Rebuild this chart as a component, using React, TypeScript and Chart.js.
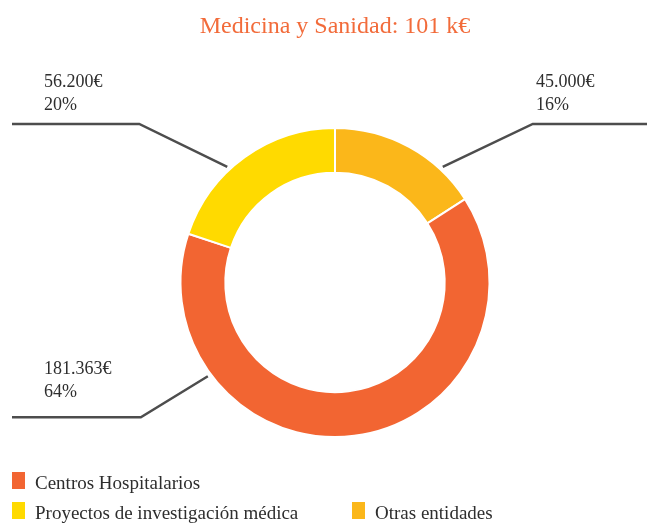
import React, { useEffect, useRef } from "react";
import { Chart, registerables } from "chart.js";

Chart.register(...registerables);

const TITLE = "Medicina y Sanidad: 101 k€";
const categories = ["Otras entidades", "Centros Hospitalarios", "Proyectos de investigación médica"];
const values = [45000, 181363, 56200];
const valueLabels = ["45.000€", "181.363€", "56.200€"];
const percentLabels = ["16%", "64%", "20%"];
const colors = ["#FBB71A", "#F26532", "#FFDA00"];
const legendOrder = [1, 2, 0];

const SERIF = "'Liberation Serif', 'DejaVu Serif', serif";

// layout of callouts (annotation geometry, per slice index)
const callouts = [
  { angle: -47, dx: 90, dy: -43, endX: 647, textX: 536, textY: [87, 110] },
  { angle: 143.6, dx: -67, dy: 41, endX: 12, textX: 44, textY: [374, 397] },
  { angle: -133, dx: -88, dy: -43, endX: 12, textX: 44, textY: [87, 110] },
];

const legendPos = [
  { x: 12, y: 472 },
  { x: 12, y: 502 },
  { x: 352, y: 502 },
];

const overlayPlugin = {
  id: "overlay",
  afterDraw(chart: any) {
    const ctx = chart.ctx as CanvasRenderingContext2D;
    const meta = chart.getDatasetMeta(0);
    ctx.save();
    // title
    ctx.fillStyle = "#F26B3A";
    ctx.font = `24px ${SERIF}`;
    ctx.textAlign = "center";
    ctx.textBaseline = "alphabetic";
    ctx.fillText(TITLE, 335, 33);

    // callouts
    meta.data.forEach((arc: any, i: number) => {
      const c = callouts[i];
      const a = (c.angle * Math.PI) / 180;
      const r = arc.outerRadius + 3.5;
      const sx = arc.x + Math.cos(a) * r;
      const sy = arc.y + Math.sin(a) * r;
      const ex = sx + c.dx;
      const ey = sy + c.dy;
      ctx.strokeStyle = "#4d4d4d";
      ctx.lineWidth = 2.5;
      ctx.beginPath();
      ctx.moveTo(sx, sy);
      ctx.lineTo(ex, ey);
      ctx.lineTo(c.endX, ey);
      ctx.stroke();
      ctx.fillStyle = "#2e2e2e";
      ctx.font = `18px ${SERIF}`;
      ctx.textAlign = "left";
      ctx.fillText(valueLabels[i], c.textX, c.textY[0]);
      ctx.fillText(percentLabels[i], c.textX, c.textY[1]);
    });

    // legend
    legendOrder.forEach((idx, k) => {
      const p = legendPos[k];
      ctx.fillStyle = colors[idx];
      ctx.fillRect(p.x, p.y, 13, 17);
      ctx.fillStyle = "#2e2e2e";
      ctx.font = `19px ${SERIF}`;
      ctx.textAlign = "left";
      ctx.fillText(categories[idx], p.x + 23, p.y + 17);
    });
    ctx.restore();
  },
};

export default function App() {
  const ref = useRef<HTMLCanvasElement | null>(null);
  useEffect(() => {
    if (!ref.current) return;
    const chart = new Chart(ref.current, {
      type: "doughnut",
      data: {
        labels: categories,
        datasets: [
          {
            data: values,
            backgroundColor: colors,
            borderColor: "#ffffff",
            borderWidth: 2,
          },
        ],
      },
      options: {
        animation: false,
        responsive: false,
        events: [],
        cutout: "71%",
        layout: { padding: { left: 179.5, right: 156.5, top: 127, bottom: 85 } },
        plugins: {
          legend: { display: false },
          title: { display: false },
          tooltip: { enabled: false },
        },
      },
      plugins: [overlayPlugin],
    });
    return () => chart.destroy();
  }, []);
  return (
    <div style={{ position: "absolute", left: 0, top: 0, width: 647, height: 523, background: "#fff" }}>
      <canvas ref={ref} width={647} height={523} style={{ width: 647, height: 523 }} />
    </div>
  );
}
